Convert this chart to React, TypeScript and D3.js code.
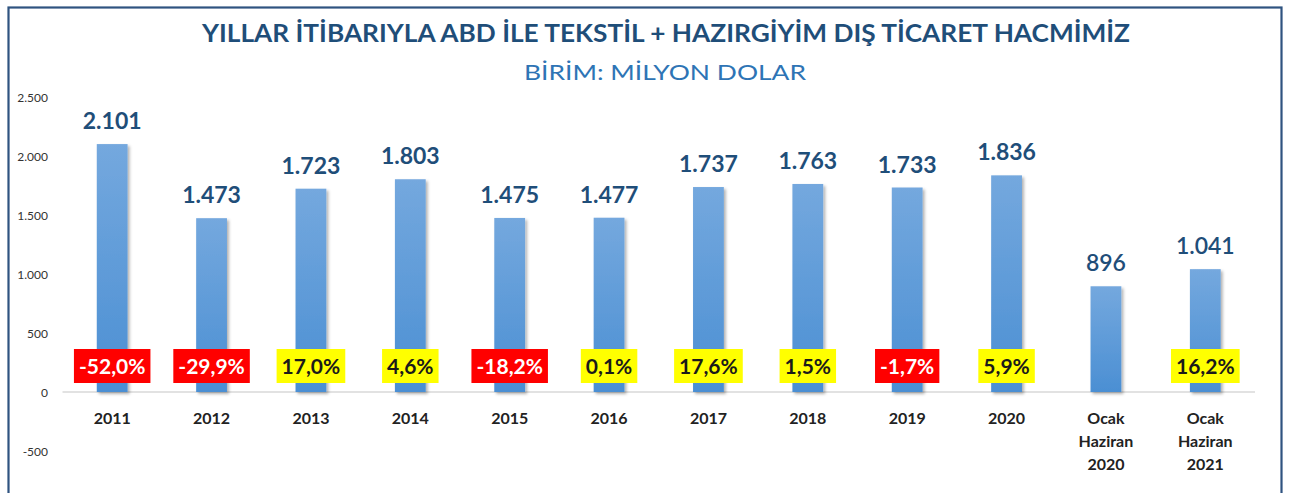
import React from "react";
import * as d3 from "d3";

const categories: string[][] = [
  ["2011"], ["2012"], ["2013"], ["2014"], ["2015"], ["2016"], ["2017"], ["2018"], ["2019"], ["2020"],
  ["Ocak", "Haziran", "2020"], ["Ocak", "Haziran", "2021"],
];
const values: number[] = [2101, 1473, 1723, 1803, 1475, 1477, 1737, 1763, 1733, 1836, 896, 1041];
const changes: (number | null)[] = [-52.0, -29.9, 17.0, 4.6, -18.2, 0.1, 17.6, 1.5, -1.7, 5.9, null, 16.2];
const yTicks: number[] = [-500, 0, 500, 1000, 1500, 2000, 2500];

const TITLE = "YILLAR İTİBARIYLA ABD İLE TEKSTİL + HAZIRGİYİM DIŞ TİCARET HACMİMİZ";
const SUBTITLE = "BİRİM: MİLYON DOLAR";

const W = 1296, H = 493;
const FONT = "Lato, 'Open Sans', sans-serif";

const fmtNum = (v: number) => {
  const s = Math.abs(v).toString();
  const withDots = s.replace(/\B(?=(\d{3})+(?!\d))/g, ".");
  return (v < 0 ? "-" : "") + withDots;
};
const fmtPct = (v: number) => v.toFixed(1).replace(".", ",") + "%";

function PctLabel({ x, y, v }: { x: number; y: number; v: number }) {
  const ref = React.useRef<SVGTextElement>(null);
  const [w, setW] = React.useState(0);
  React.useLayoutEffect(() => {
    if (ref.current) setW(ref.current.getComputedTextLength());
  }, []);
  const neg = v < 0;
  const pad = 5;
  return (
    <g>
      <rect x={x - w / 2 - pad} y={y - 17} width={w + pad * 2} height={34} fill={neg ? "#FF0000" : "#FFFF00"} />
      <text ref={ref} x={x} y={y + 8} textAnchor="middle" fontFamily={FONT} fontWeight={700} fontSize={21}
        fill={neg ? "#FFFFFF" : "#1a1a1a"}>{fmtPct(v)}</text>
    </g>
  );
}

export default function App() {
  const x = d3.scaleBand<number>().domain(d3.range(categories.length)).range([62.5, 1255]).paddingInner(0.69).paddingOuter(0.345);
  const y = d3.scaleLinear().domain([-500, 2500]).range([451, 97]);
  const bw = x.bandwidth();

  return (
    <svg width={W} height={H} style={{ position: "absolute", left: 0, top: 0, background: "#fff" }}>
      <defs>
        <linearGradient id="barGrad" x1="0" y1="0" x2="0" y2="1">
          <stop offset="0%" stopColor="#74a8de" />
          <stop offset="100%" stopColor="#4b8fd3" />
        </linearGradient>
        <filter id="shadow" x="-30%" y="-10%" width="160%" height="130%">
          <feDropShadow dx="2" dy="2" stdDeviation="1.6" floodColor="#000" floodOpacity="0.3" />
        </filter>
      </defs>
      <rect x={0} y={0} width={W} height={H} fill="#fff" />
      <rect x={8.5} y={7.5} width={1273} height={H + 20} fill="none" stroke="#2f5380" strokeWidth={2.2} />

      <text x={666} y={42} textAnchor="middle" fontFamily={FONT} fontWeight={700} fontSize={25} fill="#1f4e79"
        textLength={928} lengthAdjust="spacingAndGlyphs">{TITLE}</text>
      <text x={665} y={80} textAnchor="middle" fontFamily={FONT} fontWeight={400} fontSize={22} fill="#2e74b5"
        textLength={282} lengthAdjust="spacingAndGlyphs">{SUBTITLE}</text>

      {yTicks.map((t) => (
        <text key={t} x={48} y={y(t) + 4.5} textAnchor="end" fontFamily={FONT} fontSize={12} fill="#333">
          {fmtNum(t)}
        </text>
      ))}

      <line x1={62.5} x2={1255} y1={y(0)} y2={y(0)} stroke="#d9d9d9" strokeWidth={1.3} />

      {values.map((v, i) => (
        <rect key={"b" + i} x={x(i)!} y={y(v)} width={bw} height={y(0) - y(v)} fill="url(#barGrad)" filter="url(#shadow)" />
      ))}

      {values.map((v, i) => (
        <text key={"v" + i} x={x(i)! + bw / 2} y={y(v) - 15} textAnchor="middle" fontFamily={FONT}
          fontWeight={i >= 10 ? 600 : 700} fontSize={23} fill="#1f4e79">{fmtNum(v)}</text>
      ))}

      {changes.map((c, i) => c === null ? null : (
        <PctLabel key={"p" + i} x={x(i)! + bw / 2} y={366} v={c} />
      ))}

      {categories.map((lines, i) => (
        <text key={"c" + i} textAnchor="middle" fontFamily={FONT} fontWeight={700} fontSize={16} fill="#222">
          {lines.map((l, j) => (
            <tspan key={j} x={x(i)! + bw / 2} y={424 + j * 23}>{l}</tspan>
          ))}
        </text>
      ))}
    </svg>
  );
}
